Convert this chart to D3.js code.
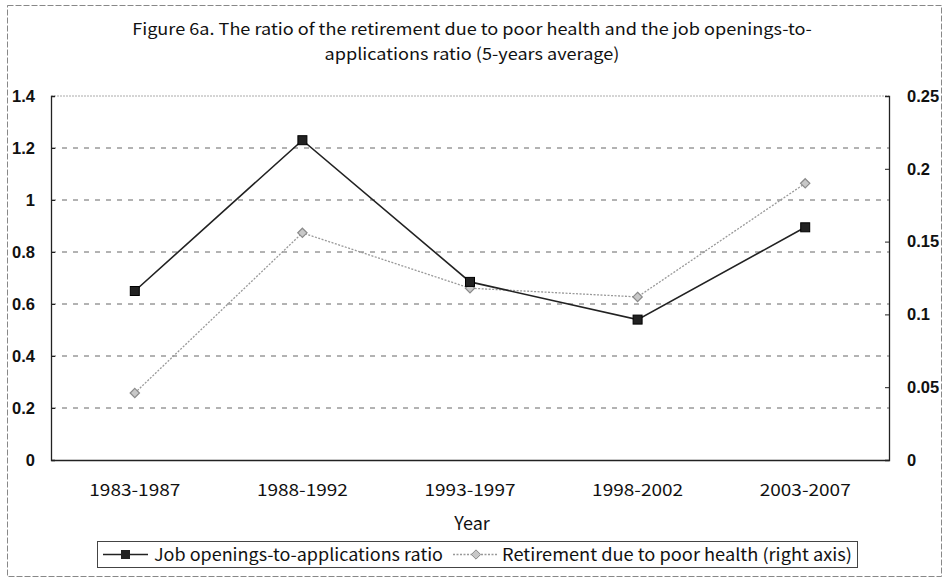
<!DOCTYPE html>
<html><head><meta charset="utf-8">
<script src="https://cdn.jsdelivr.net/npm/d3@7/dist/d3.min.js"></script>
<style>body{margin:0;background:#fff}</style>
</head><body>
<svg id="c" width="944" height="580"></svg>
<script>
const categories = ["1983-1987","1988-1992","1993-1997","1998-2002","2003-2007"];
const jobRatio = [0.65, 1.23, 0.685, 0.54, 0.895];
const retirePoorHealth = [0.046, 0.156, 0.118, 0.112, 0.190];
const leftTicks = [0, 0.2, 0.4, 0.6, 0.8, 1, 1.2, 1.4];
const rightTicks = [0, 0.05, 0.1, 0.15, 0.2, 0.25];
const titleLines = ["Figure 6a. The ratio of the retirement due to poor health and the job openings-to-","applications ratio (5-years average)"];
const seriesNames = ["Job openings-to-applications ratio","Retirement due to poor health (right axis)"];

const svg = d3.select("#c");
const font = "'Noto Sans CJK JP', 'DejaVu Sans', sans-serif";
const L = 51, R = 889, T = 96, B = 460;

// outer border
svg.append("rect").attr("x",7.5).attr("y",5.5).attr("width",934).attr("height",571)
  .attr("fill","none").attr("stroke","#888").attr("stroke-width",1).attr("stroke-dasharray","6,2");

const x = d3.scaleBand().domain(categories).range([L,R]);
const yL = d3.scaleLinear().domain([0,1.4]).range([B,T]);
const yR = d3.scaleLinear().domain([0,0.25]).range([B,T]);

// title
const tg = svg.append("g");
const tt = tg.selectAll("text").data(titleLines).join("text")
  .attr("x",0).attr("y",(d,i)=>i*25).attr("text-anchor","middle")
  .attr("font-family",font).attr("font-size",16.5).attr("fill","#111")
  .text(d=>d);
const w1 = tt.nodes()[0].getComputedTextLength();
tg.attr("transform",`translate(472,35) scale(${680/w1},1)`);

// gridlines
svg.append("g").selectAll("line").data(leftTicks.filter(d=>d>0 && d<1.4)).join("line")
  .attr("x1",L).attr("x2",R).attr("y1",d=>yL(d)).attr("y2",d=>yL(d))
  .attr("stroke","#666").attr("stroke-width",1).attr("stroke-dasharray","5,6");
// top border dotted
svg.append("line").attr("x1",L).attr("x2",R).attr("y1",T).attr("y2",T)
  .attr("stroke","#aaa").attr("stroke-dasharray","2,1");

// axes
const axL = d3.axisLeft(yL).tickValues(leftTicks).tickSize(-4).tickPadding(16).tickFormat(d=>String(+d.toFixed(1)));
const gL = svg.append("g").attr("transform",`translate(${L},0)`).call(axL);
const axR = d3.axisRight(yR).tickValues(rightTicks).tickSize(-4).tickPadding(18).tickFormat(d=>String(+d.toFixed(2)));
const gR = svg.append("g").attr("transform",`translate(${R},0)`).call(axR);
const axB = d3.axisBottom(x).tickSize(0).tickPadding(24);
const gB = svg.append("g").attr("transform",`translate(0,${B})`).call(axB);
[gL,gR,gB].forEach(g=>{
  g.selectAll(".domain").attr("stroke","#222").attr("stroke-width",1.3);
  g.selectAll(".tick line").attr("stroke","#222");
  g.selectAll("text").attr("font-family","'Liberation Sans', Arial, sans-serif").attr("font-size",16.5).attr("fill","#111").attr("font-weight","bold");
});
gL.selectAll("text").attr("text-anchor","end").attr("x",-16);
gB.selectAll("text").attr("font-family",font).attr("font-weight","normal").attr("font-size",16.5)
  .attr("textLength",91).attr("lengthAdjust","spacingAndGlyphs");

// axis title
svg.append("text").attr("x",472).attr("y",530).attr("text-anchor","middle")
  .attr("font-family",font).attr("font-size",18).attr("fill","#111").text("Year");

// series
const cx = d => x(d)+x.bandwidth()/2;
const lineL = d3.line().x((d,i)=>cx(categories[i])).y(d=>yL(d));
const lineR = d3.line().x((d,i)=>cx(categories[i])).y(d=>yR(d));

svg.append("path").datum(retirePoorHealth).attr("d",lineR).attr("fill","none")
  .attr("stroke","#999").attr("stroke-width",1.3).attr("stroke-dasharray","2,1.5");
const diamond = d3.symbol().type(d3.symbolDiamond2).size(55);
svg.append("g").selectAll("path").data(retirePoorHealth).join("path")
  .attr("d",diamond).attr("transform",(d,i)=>`translate(${cx(categories[i])},${yR(d)})`)
  .attr("fill","#c8c8c8").attr("stroke","#8a8a8a").attr("stroke-width",1.2);

svg.append("path").datum(jobRatio).attr("d",lineL).attr("fill","none")
  .attr("stroke","#222").attr("stroke-width",1.6);
svg.append("g").selectAll("rect").data(jobRatio).join("rect")
  .attr("x",(d,i)=>cx(categories[i])-4.5).attr("y",d=>yL(d)-4.5).attr("width",9).attr("height",9)
  .attr("fill","#222").attr("stroke","#000");

// legend
const lg = svg.append("g");
lg.append("rect").attr("x",97.5).attr("y",541.5).attr("width",760).attr("height",26)
  .attr("fill","#fff").attr("stroke","#444").attr("stroke-width",1);
lg.append("line").attr("x1",103).attr("x2",148).attr("y1",554.5).attr("y2",554.5).attr("stroke","#222").attr("stroke-width",1.6);
lg.append("rect").attr("x",121).attr("y",550).attr("width",9).attr("height",9).attr("fill","#222");
lg.append("text").attr("x",154).attr("y",560.5).attr("font-family",font).attr("font-size",17).attr("fill","#111")
  .attr("textLength",289).attr("lengthAdjust","spacingAndGlyphs").text(seriesNames[0]);
lg.append("line").attr("x1",453).attr("x2",497).attr("y1",554.5).attr("y2",554.5).attr("stroke","#999").attr("stroke-width",1.3).attr("stroke-dasharray","2,1.5");
lg.append("path").attr("d",diamond).attr("transform","translate(476,554.5)").attr("fill","#c8c8c8").attr("stroke","#8a8a8a");
lg.append("text").attr("x",502).attr("y",560.5).attr("font-family",font).attr("font-size",17).attr("fill","#111")
  .attr("textLength",350).attr("lengthAdjust","spacingAndGlyphs").text(seriesNames[1]);
</script>
</body></html>
